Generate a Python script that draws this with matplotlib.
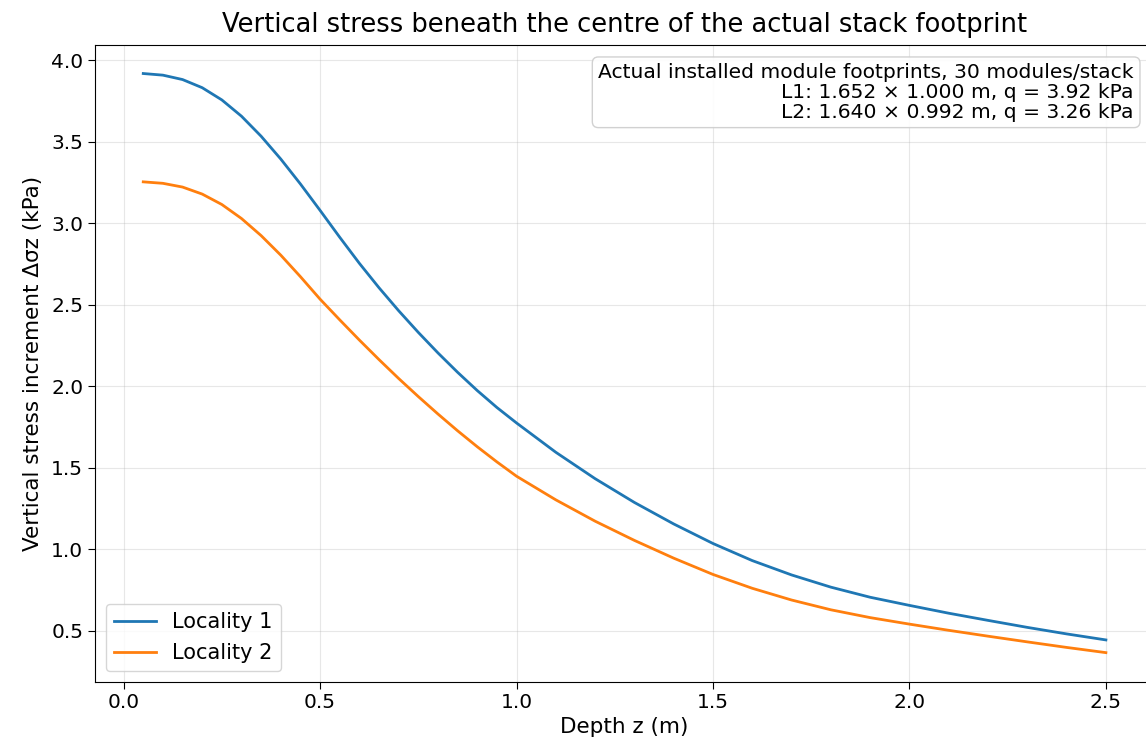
import numpy as np
import matplotlib.pyplot as plt

# depth (m) and stress increment (kPa)
depth = [0.05, 0.10, 0.15, 0.20, 0.25, 0.30, 0.35, 0.40, 0.45, 0.50,
         0.55, 0.60, 0.65, 0.70, 0.75, 0.80, 0.85, 0.90, 0.95, 1.00,
         1.10, 1.20, 1.30, 1.40, 1.50, 1.60, 1.70, 1.80, 1.90, 2.00,
         2.10, 2.20, 2.30, 2.40, 2.50]
stress_l1 = [3.92, 3.91, 3.883, 3.833, 3.758, 3.658, 3.535, 3.395, 3.242, 3.08,
             2.915, 2.755, 2.605, 2.464, 2.331, 2.205, 2.086, 1.974, 1.870, 1.775,
             1.595, 1.433, 1.287, 1.155, 1.035, 0.93, 0.842, 0.767, 0.705, 0.655,
             0.607, 0.563, 0.52, 0.48, 0.443]
stress_l2 = [3.255, 3.246, 3.223, 3.18, 3.116, 3.03, 2.925, 2.805, 2.673, 2.535,
             2.408, 2.284, 2.164, 2.048, 1.937, 1.83, 1.727, 1.629, 1.536, 1.448,
             1.303, 1.172, 1.054, 0.945, 0.845, 0.76, 0.688, 0.628, 0.58, 0.54,
             0.502, 0.466, 0.431, 0.397, 0.365]

fig = plt.figure(figsize=(11.46, 7.49), dpi=100)
ax = fig.add_axes([0.083, 0.090, 0.924, 0.8505])

ax.plot(depth, stress_l1, color='#1f77b4', linewidth=2, label='Locality 1')
ax.plot(depth, stress_l2, color='#ff7f0e', linewidth=2, label='Locality 2')

ax.set_xlabel('Depth z (m)', fontsize=15.5, labelpad=3)
ax.set_ylabel('Vertical stress increment Δσz (kPa)', fontsize=15.5, labelpad=6)
ax.set_title('Vertical stress beneath the centre of the actual stack footprint',
             fontsize=18.5, pad=9)
ax.tick_params(labelsize=14.5, length=5)
ax.grid(alpha=0.3)
ax.legend(loc='lower left', fontsize=15)

note = ('Actual installed module footprints, 30 modules/stack\n'
        'L1: 1.652 × 1.000 m, q = 3.92 kPa\n'
        'L2: 1.640 × 0.992 m, q = 3.26 kPa')
ax.text(0.981, 0.971, note, transform=ax.transAxes, ha='right', va='top',
        fontsize=14.6, linespacing=1.05,
        bbox=dict(boxstyle='round,pad=0.3', facecolor='white', edgecolor='#cccccc', alpha=0.9))

plt.savefig('out.png', dpi=100)
